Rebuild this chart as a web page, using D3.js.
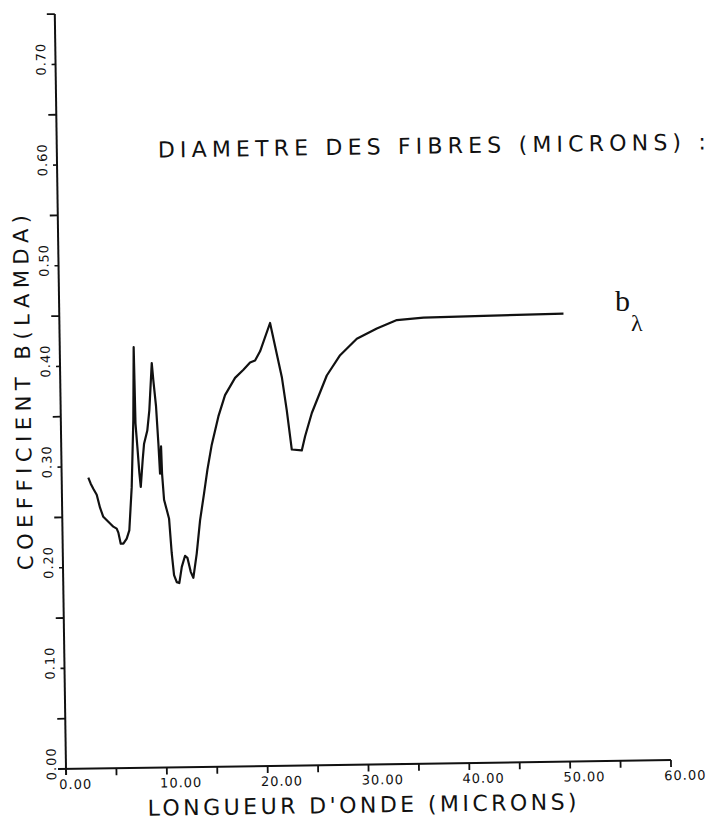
<!DOCTYPE html>
<html>
<head>
<meta charset="utf-8">
<script src="https://cdn.jsdelivr.net/npm/d3@7"></script>
<style>
  html, body { margin: 0; padding: 0; background: #fff; }
  svg { display: block; }
  .plotter { font-family: "DejaVu Sans", sans-serif; fill: #111; }
</style>
</head>
<body>
<svg id="chart" width="714" height="825"></svg>
<script>
// Absorption coefficient b(lambda) against wavelength (microns)
const wavelength = [
  2.64, 2.87, 3.12, 3.45, 3.76, 4.07, 4.56, 5.05, 5.38, 5.54,
  5.76, 6.02, 6.36, 6.63, 6.93, 7.19, 7.33, 7.40, 7.55, 7.71,
  7.83, 8.06, 8.22, 8.56, 8.79, 9.10, 9.23, 9.46, 9.64, 9.76,
  9.90, 9.96, 10.12, 10.37, 10.59, 10.80, 11.00, 11.26, 11.51, 11.78,
  12.12, 12.35, 12.66, 12.91, 13.28, 13.66, 14.10, 14.46, 14.93, 15.63,
  16.32, 17.34, 18.18, 18.85, 19.35, 19.86, 20.89, 21.98, 22.42, 22.86,
  23.85, 24.20, 24.90, 26.44, 27.79, 29.47, 31.47, 33.47, 36.11, 42.07, 50.00
];
const coefficient = [
  0.289, 0.283, 0.278, 0.272, 0.259, 0.250, 0.245, 0.240, 0.238, 0.234,
  0.223, 0.223, 0.228, 0.236, 0.279, 0.346, 0.418, 0.342, 0.319, 0.293,
  0.279, 0.306, 0.322, 0.335, 0.355, 0.402, 0.385, 0.359, 0.322, 0.292,
  0.319, 0.292, 0.266, 0.256, 0.247, 0.213, 0.191, 0.184, 0.183, 0.199,
  0.210, 0.208, 0.194, 0.188, 0.212, 0.245, 0.272, 0.295, 0.320, 0.348,
  0.369, 0.386, 0.394, 0.401, 0.403, 0.412, 0.440, 0.386, 0.353, 0.314,
  0.313, 0.327, 0.350, 0.387, 0.407, 0.423, 0.433, 0.441, 0.443, 0.444, 0.445
];

const xTickValues = [0, 10, 20, 30, 40, 50, 60];
const xTickLabels = ["0.00", "10.00", "20.00", "30.00", "40.00", "50.00", "60.00"];
const xMinorTicks = [5, 15, 25, 35, 45, 55];
const yTickValues = [0, 0.1, 0.2, 0.3, 0.4, 0.5, 0.6, 0.7];
const yTickLabels = ["0.00", "0.10", "0.20", "0.30", "0.40", "0.50", "0.60", "0.70"];
const yMinorTicks = [0.05, 0.15, 0.25, 0.35, 0.45, 0.55, 0.65, 0.75];

const titleText = "DIAMETRE DES FIBRES (MICRONS) :";
const xTitle = "LONGUEUR D'ONDE (MICRONS)";
const yTitle = "COEFFICIENT B(LAMDA)";

const svg = d3.select("#chart");

const origin = { x: 66, y: 769 };
const x = d3.scaleLinear().domain([0, 60]).range([origin.x, origin.x + 605]);
const y = d3.scaleLinear().domain([0, 0.75]).range([origin.y, origin.y - 755]);

// whole plotter sheet sits slightly askew
const sheet = svg.append("g")
  .attr("transform", `rotate(-0.85, ${origin.x}, ${origin.y})`);

const ink = "#111";

// axes
sheet.append("line")
  .attr("x1", x(0) - 8).attr("x2", x(60))
  .attr("y1", y(0)).attr("y2", y(0))
  .attr("stroke", ink).attr("stroke-width", 2);
sheet.append("line")
  .attr("x1", x(0)).attr("x2", x(0))
  .attr("y1", y(0) + 6).attr("y2", y(0.75))
  .attr("stroke", ink).attr("stroke-width", 2);

// x ticks (all pointing down)
sheet.selectAll(".xtick")
  .data(xTickValues.filter(v => v > 0).concat(xMinorTicks))
  .join("line")
  .attr("x1", d => x(d)).attr("x2", d => x(d))
  .attr("y1", y(0)).attr("y2", y(0) + 7)
  .attr("stroke", ink).attr("stroke-width", 1.8);

// y ticks: long at the half steps, short at the labelled values
sheet.selectAll(".ytickMinor")
  .data(yMinorTicks)
  .join("line")
  .attr("x1", x(0) - 8).attr("x2", x(0))
  .attr("y1", d => y(d)).attr("y2", d => y(d))
  .attr("stroke", ink).attr("stroke-width", 1.8);
sheet.selectAll(".ytickMajor")
  .data(yTickValues.filter(v => v > 0))
  .join("line")
  .attr("x1", x(0) - 4).attr("x2", x(0))
  .attr("y1", d => y(d)).attr("y2", d => y(d))
  .attr("stroke", ink).attr("stroke-width", 1.6);

// x tick labels
sheet.selectAll(".xlabel")
  .data(xTickValues)
  .join("text")
  .attr("class", "plotter")
  .attr("x", d => x(d) - 7)
  .attr("y", y(0) + 20)
  .attr("font-size", 13)
  .attr("letter-spacing", 1)
  .text((d, i) => xTickLabels[i]);

// y tick labels, rotated, decimal point on the tick
sheet.selectAll(".ylabel")
  .data(yTickValues)
  .join("text")
  .attr("class", "plotter")
  .attr("transform", d => `translate(${x(0) - 10}, ${y(d) + 11}) rotate(-90)`)
  .attr("font-size", 13)
  .attr("letter-spacing", 1)
  .text((d, i) => yTickLabels[i]);

// axis titles
sheet.append("text")
  .attr("class", "plotter")
  .attr("x", 147).attr("y", y(0) + 48)
  .attr("font-size", 22)
  .attr("textLength", 429).attr("lengthAdjust", "spacing")
  .text(xTitle);

sheet.append("text")
  .attr("class", "plotter")
  .attr("transform", `translate(36, 392) rotate(-90)`)
  .attr("text-anchor", "middle")
  .attr("font-size", 21)
  .attr("textLength", 355).attr("lengthAdjust", "spacing")
  .text(yTitle);

// heading
sheet.append("text")
  .attr("class", "plotter")
  .attr("x", 167).attr("y", 159)
  .attr("font-size", 22)
  .attr("textLength", 548).attr("lengthAdjust", "spacing")
  .text(titleText);

// curve
const line = d3.line()
  .x(d => x(d[0]))
  .y(d => y(d[1]));
sheet.append("path")
  .datum(wavelength.map((w, i) => [w, coefficient[i]]))
  .attr("fill", "none")
  .attr("stroke", ink)
  .attr("stroke-width", 2.2)
  .attr("stroke-linejoin", "round")
  .attr("d", line);

// series label b_lambda
const lab = svg.append("text")
  .attr("x", 615).attr("y", 311)
  .attr("font-family", "'Liberation Serif', 'DejaVu Serif', serif")
  .attr("fill", ink);
lab.append("tspan").attr("font-size", 30).text("b");
lab.append("tspan").attr("font-size", 24).attr("dx", 1).attr("dy", 20).text("λ");
</script>
</body>
</html>
